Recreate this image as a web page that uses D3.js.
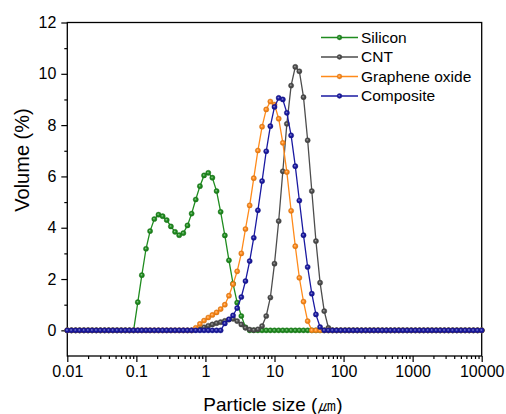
<!DOCTYPE html>
<html>
<head>
<meta charset="utf-8">
<script src="https://cdn.jsdelivr.net/npm/d3@7"></script>
<style>
  body { margin: 0; background: #fff; }
  svg { display: block; font-family: Arial, "Liberation Sans", sans-serif; }
</style>
</head>
<body>
<svg id="chart" width="506" height="414"></svg>
<script>
// particle size classes (um), instrument grid
var sizes = [
  0.01, 0.0115, 0.0132, 0.0151, 0.0174, 0.02, 0.0229, 0.0263, 0.0302, 0.0347,
  0.0398, 0.0457, 0.0525, 0.0603, 0.0692, 0.0794, 0.0912, 0.105, 0.120, 0.138,
  0.158, 0.182, 0.209, 0.240, 0.275, 0.316, 0.363, 0.417, 0.479, 0.550,
  0.631, 0.724, 0.832, 0.955, 1.10, 1.26, 1.45, 1.66, 1.91, 2.19,
  2.51, 2.88, 3.31, 3.80, 4.37, 5.01, 5.75, 6.61, 7.59, 8.71,
  10.0, 11.5, 13.2, 15.1, 17.4, 20.0, 22.9, 26.3, 30.2, 34.7,
  39.8, 45.7, 52.5, 60.3, 69.2, 79.4, 91.2, 105, 120, 138,
  158, 182, 209, 240, 275, 316, 363, 417, 479, 550,
  631, 724, 832, 955, 1096, 1259, 1445, 1660, 1905, 2188,
  2512, 2884, 3311, 3802, 4365, 5012, 5754, 6607, 7586, 8710,
  10000
];

var silicon = [
  0, 0, 0, 0, 0, 0, 0, 0, 0, 0,
  0, 0, 0, 0, 0, 0, 0, 1.10, 2.15, 3.18,
  3.87, 4.34, 4.51, 4.45, 4.30, 4.05, 3.84, 3.71, 3.79, 4.09,
  4.55, 5.10, 5.62, 6.04, 6.14, 5.95, 5.43, 4.62, 3.70, 2.73,
  1.82, 1.08, 0.56, 0.12, 0, 0, 0, 0, 0, 0,
  0, 0, 0, 0, 0, 0, 0, 0, 0, 0,
  0, 0, 0, 0, 0, 0, 0, 0, 0, 0,
  0, 0, 0, 0, 0, 0, 0, 0, 0, 0,
  0, 0, 0, 0, 0, 0, 0, 0, 0, 0,
  0, 0, 0, 0, 0, 0, 0, 0, 0, 0,
  0
];

var cnt = [
  0, 0, 0, 0, 0, 0, 0, 0, 0, 0,
  0, 0, 0, 0, 0, 0, 0, 0, 0, 0,
  0, 0, 0, 0, 0, 0, 0, 0, 0, 0,
  0, 0.02, 0.05, 0.12, 0.18, 0.23, 0.28, 0.32, 0.37, 0.42,
  0.45, 0.36, 0.23, 0.10, 0.03, 0.01, 0.04, 0.17, 0.56, 1.28,
  2.60, 4.26, 6.20, 8.05, 9.54, 10.27, 10.10, 9.09, 7.41, 5.43,
  3.48, 1.86, 0.75, 0.10, 0, 0, 0, 0, 0, 0,
  0, 0, 0, 0, 0, 0, 0, 0, 0, 0,
  0, 0, 0, 0, 0, 0, 0, 0, 0, 0,
  0, 0, 0, 0, 0, 0, 0, 0, 0, 0,
  0
];

var grapheneOxide = [
  0, 0, 0, 0, 0, 0, 0, 0, 0, 0,
  0, 0, 0, 0, 0, 0, 0, 0, 0, 0,
  0, 0, 0, 0, 0, 0, 0, 0, 0, 0,
  0, 0.10, 0.25, 0.38, 0.50, 0.60, 0.70, 0.83, 1.00, 1.35,
  1.80, 2.30, 3.00, 3.95, 4.87, 5.93, 7.01, 7.94, 8.61, 8.92,
  8.80, 8.25, 7.31, 6.17, 4.66, 3.28, 2.05, 1.12, 0.36, 0,
  0, 0, 0, 0, 0, 0, 0, 0, 0, 0,
  0, 0, 0, 0, 0, 0, 0, 0, 0, 0,
  0, 0, 0, 0, 0, 0, 0, 0, 0, 0,
  0, 0, 0, 0, 0, 0, 0, 0, 0, 0,
  0
];

var composite = [
  0, 0, 0, 0, 0, 0, 0, 0, 0, 0,
  0, 0, 0, 0, 0, 0, 0, 0, 0, 0,
  0, 0, 0, 0, 0, 0, 0, 0, 0, 0,
  0, 0, 0, 0, 0, 0, 0, 0, 0.27, 0.43,
  0.58, 0.87, 1.30, 1.92, 2.70, 3.61, 4.68, 5.82, 6.98, 7.96,
  8.71, 9.06, 9.00, 8.48, 7.60, 6.40, 5.06, 3.71, 2.47, 1.43,
  0.62, 0.13, 0, 0, 0, 0, 0, 0, 0, 0,
  0, 0, 0, 0, 0, 0, 0, 0, 0, 0,
  0, 0, 0, 0, 0, 0, 0, 0, 0, 0,
  0, 0, 0, 0, 0, 0, 0, 0, 0, 0,
  0
];

var seriesNames = ['Silicon', 'CNT', 'Graphene oxide', 'Composite'];
var seriesValues = [silicon, cnt, grapheneOxide, composite];
var seriesColors = ['#1f8c1f', '#4d4d4d', '#ff8a1a', '#1a1aa2'];

var xTicks = [0.01, 0.1, 1, 10, 100, 1000, 10000];
var xTickLabels = ['0.01', '0.1', '1', '10', '100', '1000', '10000'];
var yTicks = [0, 2, 4, 6, 8, 10, 12];
var yMinorTicks = [1, 3, 5, 7, 9, 11];

var svg = d3.select('#chart');

var margin = {top: 22.5, right: 24.3, bottom: 58, left: 67.3};
var width = 506 - margin.left - margin.right;
var height = 414 - margin.top - margin.bottom;

var g = svg.append('g').attr('transform', 'translate(' + margin.left + ',' + margin.top + ')');

var x = d3.scaleLog().domain([0.01, 10000]).range([0, width]);
var y = d3.scaleLinear().domain([-1, 12]).range([height, 0]);

// sphere-like marker fills
var defs = svg.append('defs');
seriesColors.forEach(function(c, k) {
  var grad = defs.append('radialGradient')
    .attr('id', 'ball' + k)
    .attr('cx', '50%').attr('cy', '50%').attr('r', '50%')
    .attr('fx', '40%').attr('fy', '40%');
  grad.append('stop').attr('offset', '0%').attr('stop-color', d3.interpolateRgb(c, '#fff')(0.55));
  grad.append('stop').attr('offset', '50%').attr('stop-color', c);
  grad.append('stop').attr('offset', '100%').attr('stop-color', d3.color(c).darker(0.5));
});

// minor log ticks
var xMinor = [];
xTicks.slice(0, -1).forEach(function(d) {
  for (var m = 2; m <= 9; m++) xMinor.push(d * m);
});

// X axis
var xAxis = g.append('g')
  .attr('transform', 'translate(0,' + height + ')')
  .call(d3.axisBottom(x).tickValues(xTicks).tickFormat(function(d, i) { return xTickLabels[i]; })
    .tickSize(6).tickSizeOuter(0).tickPadding(4));
xAxis.select('.domain').remove();
xAxis.selectAll('text').attr('font-size', 16).attr('fill', '#000').attr('font-family', 'Arial, "Liberation Sans", sans-serif');
xAxis.selectAll('line').attr('stroke-width', 1.2);

g.append('g')
  .attr('transform', 'translate(0,' + height + ')')
  .call(d3.axisBottom(x).tickValues(xMinor).tickFormat('').tickSize(3).tickSizeOuter(0))
  .call(function(s) { s.select('.domain').remove(); s.selectAll('line').attr('stroke-width', 1.2); });

// Y axis
var yAxis = g.append('g')
  .call(d3.axisLeft(y).tickValues(yTicks).tickSize(6).tickSizeOuter(0).tickPadding(5));
yAxis.select('.domain').remove();
yAxis.selectAll('text').attr('font-size', 16).attr('fill', '#000').attr('font-family', 'Arial, "Liberation Sans", sans-serif');
yAxis.selectAll('line').attr('stroke-width', 1.2);

g.append('g')
  .call(d3.axisLeft(y).tickValues(yMinorTicks).tickFormat('').tickSize(3).tickSizeOuter(0))
  .call(function(s) { s.select('.domain').remove(); s.selectAll('line').attr('stroke-width', 1.2); });

// frame
g.append('rect')
  .attr('width', width).attr('height', height)
  .attr('fill', 'none').attr('stroke', '#000').attr('stroke-width', 1.3);

// Data
var line = d3.line()
  .x(function(d, i) { return x(sizes[i]); })
  .y(function(d) { return y(d); });

seriesValues.forEach(function(vals, k) {
  var sg = g.append('g');
  sg.append('path')
    .datum(vals)
    .attr('fill', 'none')
    .attr('stroke', seriesColors[k])
    .attr('stroke-width', 1.3)
    .attr('d', line);
  sg.selectAll('circle')
    .data(vals)
    .enter().append('circle')
    .attr('cx', function(d, i) { return x(sizes[i]); })
    .attr('cy', function(d) { return y(d); })
    .attr('r', 2.6)
    .attr('fill', 'url(#ball' + k + ')')
    .attr('stroke', d3.color(seriesColors[k]).darker(0.4))
    .attr('stroke-width', 0.4);
});

// Legend
var legend = svg.append('g').attr('transform', 'translate(321,37.5)');
seriesNames.forEach(function(name, k) {
  var row = legend.append('g').attr('transform', 'translate(0,' + (k * 19.5) + ')');
  row.append('line').attr('x1', 0).attr('x2', 37).attr('y1', 0).attr('y2', 0)
    .attr('stroke', seriesColors[k]).attr('stroke-width', 1.3);
  row.append('circle').attr('cx', 18.5).attr('cy', 0).attr('r', 2.4)
    .attr('fill', 'url(#ball' + k + ')')
    .attr('stroke', d3.color(seriesColors[k]).darker(0.4)).attr('stroke-width', 0.4);
  row.append('text').attr('x', 40).attr('y', 0).attr('dy', '0.35em')
    .attr('font-size', 15.5).attr('fill', '#000').text(name);
});

// axis titles
svg.append('text')
  .attr('transform', 'translate(29,160) rotate(-90)')
  .attr('text-anchor', 'middle')
  .attr('font-size', 20)
  .attr('fill', '#000')
  .text('Volume (%)');

svg.append('text')
  .attr('x', 273).attr('y', 411)
  .attr('text-anchor', 'middle')
  .attr('font-size', 19)
  .attr('fill', '#000')
  .text('Particle size (㎛)');
</script>
</body>
</html>
